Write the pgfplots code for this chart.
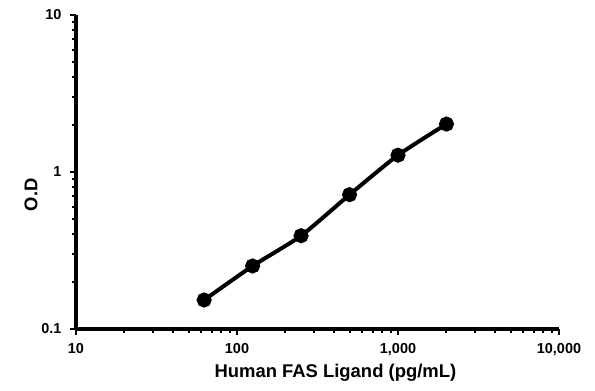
\documentclass[border=0pt]{standalone}
\usepackage{pgfplots}
\pgfplotsset{compat=1.18}
\usepackage{fontspec}
\setmainfont{Liberation Sans}
\begin{document}
\begin{tikzpicture}
\useasboundingbox (-76bp,-62bp) rectangle (519bp,329bp);
\begin{axis}[
  scale only axis,
  width=483bp, height=314bp,
  at={(0,0)}, anchor=south west,
  xmode=log, ymode=log,
  xmin=10, xmax=10000, ymin=0.1, ymax=10,
  axis x line*=bottom, axis y line*=left,
  axis line style={line width=4bp, -},
  tick style={black, line width=2bp},
  tick align=outside,
  major tick length=6bp, minor tick length=4bp,
  xtick={10,100,1000,10000},
  xticklabels={10,100,{1,000},{10,000}},
  ytick={0.1,1,10},
  yticklabels={0.1,1,10},
  tick label style={font=\fontsize{14.5}{16}\selectfont\bfseries},
  xticklabel style={yshift=-5bp},
  yticklabel style={xshift=-5bp},
  xlabel={Human FAS Ligand (pg/mL)},
  ylabel={O.D},
  label style={font=\fontsize{18.5}{21}\selectfont\bfseries},
  xlabel style={at={(axis description cs:0.537,-0.14)}, anchor=center},
  ylabel style={at={(axis description cs:-0.093,0.427)}, anchor=center, rotate=0},
  clip=false,
]
\addplot[black, line width=4bp, smooth, tension=0.4, mark=*, mark size=5.5bp]
coordinates {(62.5,0.153) (125,0.252) (250,0.393) (500,0.717) (1000,1.28) (2000,2.02)};
\end{axis}
\end{tikzpicture}
\end{document}
